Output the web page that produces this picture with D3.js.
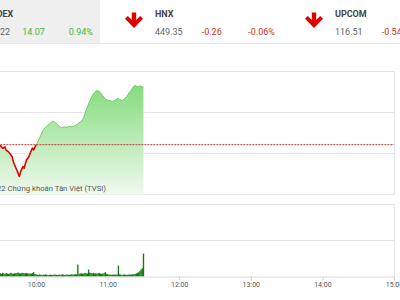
<!DOCTYPE html>
<html>
<head>
<meta charset="utf-8">
<script src="https://cdn.jsdelivr.net/npm/d3@7"></script>
<style>
  html, body { margin: 0; padding: 0; background: #fff; overflow: hidden; }
  svg { display: block; font-family: Roboto, "Noto Sans", sans-serif; }
</style>
</head>
<body>
<svg id="chart" width="400" height="300"></svg>
<script>
// ---- Index summary row ----
const indexNames    = ["VNINDEX", "HNX", "UPCOM"];
const indexValues   = ["1,511.22", "449.35", "116.51"];
const indexChanges  = ["14.07", "-0.26", "-0.54"];
const indexPercents = ["0.94%", "-0.06%", "-0.46%"];
const indexUp       = [true, false, false];

// ---- VN-Index intraday (morning session) ----
const prevClose = 1497.15;
const priceTimes = [
  "09:15","09:18","09:21","09:24","09:27","09:30","09:32","09:34","09:35","09:37",
  "09:38","09:40","09:41","09:43","09:44","09:46","09:47","09:49","09:50","09:52",
  "09:54","09:55","09:57","09:58","10:00","10:01","10:03","10:06","10:09","10:12",
  "10:14","10:17","10:19","10:21","10:24","10:26","10:28","10:30","10:32","10:34",
  "10:37","10:40","10:42","10:45","10:48","10:51","10:52","10:54","10:56","10:58",
  "11:00","11:02","11:04","11:06","11:09","11:10","11:12","11:14","11:16","11:18",
  "11:20","11:21","11:23","11:24","11:26","11:27","11:29","11:30"
];
const priceValues = [
  1497.6,1497.9,1497.3,1497.8,1497.2,1497.0,1496.3,1496.6,1495.8,1495.4,
  1495.0,1494.2,1493.0,1491.6,1490.9,1489.4,1490.5,1491.8,1491.4,1493.4,
  1494.2,1495.0,1496.3,1495.9,1497.1,1497.5,1498.8,1500.7,1501.7,1502.4,
  1502.9,1502.4,1501.8,1501.3,1501.5,1501.4,1501.6,1501.5,1501.7,1502.0,
  1502.6,1503.7,1505.6,1507.8,1509.5,1510.4,1510.3,1509.9,1509.1,1508.3,
  1508.0,1507.9,1507.7,1507.9,1508.5,1508.2,1507.9,1508.3,1508.9,1509.8,
  1510.5,1511.1,1511.6,1511.4,1511.3,1511.5,1511.3,1511.22
];

// ---- Matched volume per minute, starting 09:15 ----
const volumeStart = "09:15";
const volumeValues = [
  // 09:15 - 09:29
  1.2,0.8,0.7,0.6,0.6,0.5,0.55,0.5,0.45,0.5,0.45,0.4,0.5,0.45,0.4,
  // 09:30 - 09:59
  0.45,0.38,0.5,0.42,0.36,0.48,0.4,0.35,0.44,0.52,0.4,0.38,0.46,0.42,0.5,
  0.55,0.44,0.4,0.48,0.52,0.46,0.42,0.5,0.44,0.38,0.42,0.4,0.46,0.6,0.36,
  // 10:00 - 10:34
  0.3,0.25,0.22,0.28,0.24,0.2,0.26,0.22,0.3,0.24,0.2,0.22,0.27,0.23,0.2,
  0.25,0.28,0.22,0.2,0.24,0.26,0.22,0.3,0.25,0.2,0.23,0.27,0.24,0.22,0.28,
  0.3,0.26,0.28,0.32,0.3,
  // 10:35 - 10:59
  1.66,0.35,0.4,0.45,0.38,0.42,0.5,0.44,0.4,0.97,0.55,0.48,0.42,0.5,0.4,
  0.46,0.38,0.44,0.5,0.4,0.36,0.42,0.45,0.6,0.38,
  // 11:00 - 11:29
  0.3,0.25,0.28,0.22,0.26,0.24,0.3,0.25,0.28,1.52,0.3,0.26,0.22,0.25,0.28,
  0.24,0.22,0.26,0.3,0.25,0.28,0.32,0.3,0.35,0.4,0.48,0.6,0.75,0.95,1.15,
  // 11:30
  3.18
];

const svg = d3.select("#chart");
const parseT = d3.timeParse("%H:%M");

// Scales
const x = d3.scaleTime()
  .domain([parseT("09:00"), parseT("15:00")])
  .range([-35.6, 394]);
const y = d3.scaleLinear().domain([1485, 1515]).range([194.5, 71.5]);
const yv = d3.scaleLinear().domain([0, 10]).range([276.5, 204.5]);

const priceData = priceTimes.map((t, i) => ({ t: parseT(t), v: priceValues[i] }));
const t0 = parseT(volumeStart);
const volData = volumeValues.map((v, i) => ({ t: d3.timeMinute.offset(t0, i), v }));

// ---- Header ----
const header = svg.append("g");
header.append("rect").attr("x", -100).attr("y", 0).attr("width", 200).attr("height", 43)
  .attr("fill", "#efefef");
header.append("line").attr("x1", 0).attr("x2", 400).attr("y1", 43.5).attr("y2", 43.5)
  .attr("stroke", "#e8e8e8");

const colX = [-24.5, 155, 335];
const upColor = "#3db54a", downColor = "#c9302c";

function arrow(g, cx, top, up, color) {
  // block arrow: shaft plus thick chevron head
  const s = up ? -1 : 1;
  const base = up ? top + 16 : top;
  const p = d3.path();
  p.moveTo(cx - 2.2, base);
  p.lineTo(cx + 2.2, base);
  p.lineTo(cx + 2.2, base + s * 7.5);
  p.lineTo(cx + 6.2, base + s * 3.5);
  p.lineTo(cx + 9, base + s * 6.3);
  p.lineTo(cx, base + s * 15.5);
  p.lineTo(cx - 9, base + s * 6.3);
  p.lineTo(cx - 6.2, base + s * 3.5);
  p.lineTo(cx - 2.2, base + s * 7.5);
  p.closePath();
  g.append("path").attr("d", p.toString()).attr("fill", color);
}

indexNames.forEach((name, i) => {
  const cx = colX[i];
  const col = indexUp[i] ? upColor : downColor;
  arrow(header, cx - 21, 12.5, indexUp[i], indexUp[i] ? "#2fae3c" : "#e00000");
  header.append("text").attr("x", cx).attr("y", 16.7)
    .attr("font-size", 9).attr("font-weight", "bold").attr("fill", "#444").text(name);
  header.append("text").attr("x", cx).attr("y", 35.3)
    .attr("font-size", 9).attr("fill", "#666").text(indexValues[i]);
  header.append("text").attr("x", cx + 46.7).attr("y", 35.3)
    .attr("font-size", 9).attr("fill", col).text(indexChanges[i]);
  header.append("text").attr("x", cx + 93.3).attr("y", 35.3)
    .attr("font-size", 9).attr("fill", col).text(indexPercents[i]);
});

// ---- Price panel ----
const gridColor = "#e4e4e4";
const pricePanel = svg.append("g");
pricePanel.selectAll("line.grid").data([1485, 1495, 1505, 1515]).join("line")
  .attr("class", "grid")
  .attr("x1", x.range()[0]).attr("x2", 394)
  .attr("y1", d => y(d)).attr("y2", d => y(d))
  .attr("stroke", gridColor);
pricePanel.append("line").attr("x1", 394.5).attr("x2", 394.5)
  .attr("y1", y(1515)).attr("y2", y(1485)).attr("stroke", gridColor);

const defs = svg.append("defs");
const grad = defs.append("linearGradient").attr("id", "areaFill")
  .attr("gradientUnits", "userSpaceOnUse")
  .attr("x1", 0).attr("x2", 0).attr("y1", 84).attr("y2", y(1485));
grad.append("stop").attr("offset", 0).attr("stop-color", "#84db7c");
grad.append("stop").attr("offset", 1).attr("stop-color", "#f0faee");

const yRef = y(prevClose);
defs.append("clipPath").attr("id", "above").append("rect")
  .attr("x", -100).attr("y", 0).attr("width", 600).attr("height", yRef);
defs.append("clipPath").attr("id", "below").append("rect")
  .attr("x", -100).attr("y", yRef).attr("width", 600).attr("height", 300);

const area = d3.area().x(d => x(d.t)).y0(y(1485)).y1(d => y(d.v));
const line = d3.line().x(d => x(d.t)).y(d => y(d.v));

pricePanel.append("path").datum(priceData).attr("d", area).attr("fill", "url(#areaFill)");
pricePanel.append("path").datum(priceData).attr("d", line)
  .attr("fill", "none").attr("stroke", "#6fcf69").attr("stroke-width", 1)
  .attr("clip-path", "url(#above)");
pricePanel.append("path").datum(priceData).attr("d", line)
  .attr("fill", "none").attr("stroke", "#e20000").attr("stroke-width", 1.6)
  .attr("stroke-linejoin", "round")
  .attr("clip-path", "url(#below)");

pricePanel.append("line").attr("x1", x.range()[0]).attr("x2", 394)
  .attr("y1", yRef).attr("y2", yRef)
  .attr("stroke", "#b53a3a").attr("stroke-width", 1).attr("stroke-dasharray", "2,1");

pricePanel.append("text").attr("x", 106).attr("y", 191).attr("text-anchor", "end")
  .attr("font-size", 7.7).attr("fill", "#555")
  .text("© 2022 Chứng khoán Tân Việt (TVSI)");

// ---- Volume panel ----
const volPanel = svg.append("g");
volPanel.selectAll("line.grid").data([5, 10]).join("line")
  .attr("class", "grid")
  .attr("x1", x.range()[0]).attr("x2", 394)
  .attr("y1", d => yv(d)).attr("y2", d => yv(d))
  .attr("stroke", gridColor);
volPanel.append("line").attr("x1", 394.5).attr("x2", 394.5)
  .attr("y1", yv(10)).attr("y2", yv(0)).attr("stroke", gridColor);

const step = x(d3.timeMinute.offset(t0, 1)) - x(t0);
volPanel.selectAll("rect.bar").data(volData).join("rect")
  .attr("class", "bar")
  .attr("x", d => x(d.t) - step / 2)
  .attr("width", step + 0.15)
  .attr("y", d => yv(d.v))
  .attr("height", d => yv(0) - yv(d.v))
  .attr("fill", "#137a13");

const xAxis = d3.axisBottom(x)
  .ticks(d3.timeHour.every(1))
  .tickFormat(d3.timeFormat("%H:%M"))
  .tickSize(4)
  .tickPadding(2);
const axisG = volPanel.append("g").attr("transform", `translate(0,${yv(0)})`).call(xAxis);
axisG.select(".domain").attr("stroke", "#dcdcdc");
axisG.selectAll(".tick line").attr("stroke", "#cfcfcf");
axisG.selectAll(".tick text").attr("fill", "#555").attr("font-size", 7)
  .attr("font-family", "Roboto, sans-serif");
</script>
</body>
</html>
